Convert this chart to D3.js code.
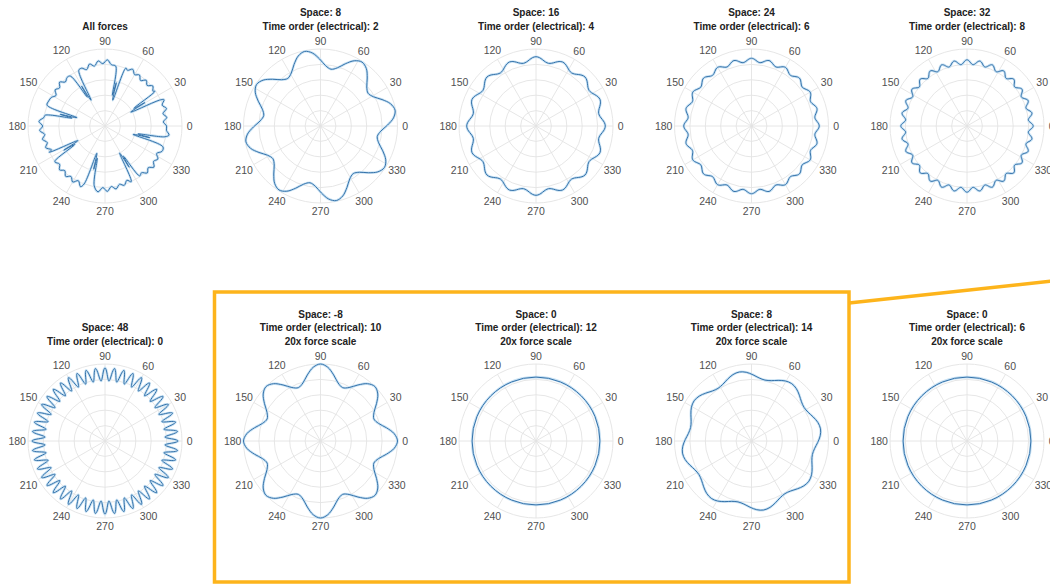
<!DOCTYPE html>
<html><head><meta charset="utf-8">
<script src="https://cdn.jsdelivr.net/npm/d3@7"></script>
<style>
html,body{margin:0;padding:0;background:#fff;}
svg{display:block;}
text{font-family:"Liberation Sans",Arial,Helvetica,sans-serif;}
</style></head><body>
<svg id="chart" width="1050" height="585"></svg>
<script>
// ---------------- data ----------------
// panel 0 = "All forces"; panels 1..9 = single force harmonics
const spaceOrders  = [null, 8, 16, 24, 32, 48, -8, 0, 8, 0];
const timeOrders   = [null, 2, 4, 6, 8, 0, 10, 12, 14, 6];
const forceScales  = [null, null, null, null, null, null, 20, 20, 20, 20];
// lobe radii (fraction of outer ring) at peak and trough; angle of one peak (deg)
const peakRadius   = [null, 0.99, 0.90, 0.88, 0.86, 0.95, 1.00, 0.83, 0.91, 0.83];
const troughRadius = [null, 0.75, 0.83, 0.83, 0.80, 0.78, 0.75, 0.83, 0.81, 0.83];
const peakAngleDeg = [null, 12, 0, 0, 0, 0, 0, 0, 10, 0];
// shape of one lobe, peak -> trough -> peak, in 8 steps (0 = trough, 1 = peak)
const lobeShape    = [1, 0.85, 0.5, 0.15, 0, 0.15, 0.5, 0.85];

// "All forces" outline: ring radius every 4 degrees (0..356)
const allForcesRing = [
 .80,.76,.81,.77,.83,.79,.84,.79,.82,.77,.81,.76,.80,.75,.80,.77,.82,.78,
 .84,.79,.85,.80,.86,.81,.85,.79,.83,.77,.81,.76,.80,.75,.80,.77,.82,.77,
 .80,.75,.79,.80,.84,.79,.85,.80,.86,.81,.85,.79,.83,.78,.82,.76,.80,.75,
 .80,.77,.82,.78,.83,.79,.84,.79,.85,.80,.85,.81,.86,.80,.85,.79,.83,.78,
 .81,.76,.80,.75,.80,.77,.82,.78,.83,.78,.81,.76,.81,.78,.83,.79,.84,.80];
// inward spikes of "All forces"
const spikeAngles    = [30, 75, 120, 165, 210, 255, 300, 345];
const spikeTipRadius = [0.38, 0.35, 0.38, 0.38, 0.40, 0.37, 0.40, 0.38];
const spikeMidRadius = [0.60, 0.58, 0.60, 0.60, 0.62, 0.58, 0.62, 0.60];

const thetaTicks  = [0, 30, 60, 90, 120, 150, 180, 210, 240, 270, 300, 330];
const radialTicks = [0.2, 0.4, 0.6, 0.8, 1.0];

// ---------------- layout ----------------
const colX = [105, 320.5, 536, 751.5, 967];
const rowY = [126, 441];
const R = 77;
const rScale = d3.scaleLinear().domain([0, 1]).range([0, R]);
const toRad = d => d * Math.PI / 180;
const lineColor = "#3472aa";
const haloColor = "#c9e2f4";

const svg = d3.select("#chart");
svg.append("rect").attr("width", 1050).attr("height", 585).attr("fill", "#fff");

function titleLines(i) {
  if (i === 0) return ["All forces"];
  const t = ["Space: " + spaceOrders[i], "Time order (electrical): " + timeOrders[i]];
  if (forceScales[i]) t.push(forceScales[i] + "x force scale");
  return t;
}

const radial = d3.lineRadial()
  .angle(d => toRad(90 - d[0]))
  .radius(d => rScale(d[1]));

function panelPoints(i) {
  const n = Math.abs(spaceOrders[i]);
  const m = lobeShape.length;
  const pts = [];
  for (let k = 0; k < m * n; k++) {
    const f = lobeShape[k % m];
    pts.push([peakAngleDeg[i] + k * 360 / (m * n), troughRadius[i] + f * (peakRadius[i] - troughRadius[i])]);
  }
  return pts;
}

function allForcesPoints() {
  const pts = [];
  const circDist = (a, b) => { const d = Math.abs(((a - b) % 360 + 360) % 360); return Math.min(d, 360 - d); };
  allForcesRing.forEach((r, k) => {
    const a = k * 4;
    if (spikeAngles.every(s => circDist(a, s) > 5)) pts.push([a, r]);
  });
  spikeAngles.forEach((s, j) => {
    const tip = spikeTipRadius[j];
    [[-4.8, 0.80], [-1.6, tip], [0.4, spikeMidRadius[j]], [1.5, tip + 0.06], [4.8, 0.79]]
      .forEach(p => pts.push([s + p[0], p[1]]));
  });
  pts.forEach(p => { p[0] = ((p[0] % 360) + 360) % 360; });
  pts.sort((a, b) => a[0] - b[0]);
  return pts;
}

for (let i = 0; i < 10; i++) {
  const cx = colX[i % 5], cy = rowY[Math.floor(i / 5)];
  const g = svg.append("g").attr("transform", `translate(${cx},${cy})`);

  // grid
  g.selectAll("circle.grid").data(radialTicks).join("circle")
    .attr("class", "grid").attr("r", d => rScale(d))
    .attr("fill", "none").attr("stroke", "#e3e3e3").attr("stroke-width", 0.9);
  g.selectAll("line.spoke").data(thetaTicks).join("line")
    .attr("class", "spoke")
    .attr("x1", 0).attr("y1", 0)
    .attr("x2", d => rScale(1) * Math.cos(toRad(d)))
    .attr("y2", d => -rScale(1) * Math.sin(toRad(d)))
    .attr("stroke", "#e3e3e3").attr("stroke-width", 0.9);

  // theta labels
  const fs = 10.5;
  g.selectAll("text.tl").data(thetaTicks).join("text")
    .attr("class", "tl")
    .attr("font-size", fs).attr("fill", "#505050").attr("text-anchor", "middle")
    .each(function(d) {
      const w = String(d).length * 0.556 * fs, h = 0.72 * fs;
      const c = Math.cos(toRad(d)), s = Math.sin(toRad(d));
      const half = Math.abs(c) * w / 2 + Math.abs(s) * h / 2;
      const rr = R + 6 + half * 0.55;
      d3.select(this).attr("x", rr * c).attr("y", -rr * s + 0.36 * fs);
    })
    .text(d => d);

  // data curve
  let path = null;
  if (i === 0) {
    path = radial.curve(d3.curveCatmullRomClosed.alpha(0.5))(allForcesPoints());
  } else if (spaceOrders[i] !== 0) {
    path = radial.curve(d3.curveCatmullRomClosed.alpha(0.5))(panelPoints(i));
  }
  if (path) {
    g.append("path").attr("d", path).attr("fill", "none")
      .attr("stroke", haloColor).attr("stroke-width", 2.6).attr("stroke-linejoin", "round");
    g.append("path").attr("d", path).attr("fill", "none")
      .attr("stroke", lineColor).attr("stroke-width", 1).attr("stroke-linejoin", "round");
  } else {
    g.append("circle").attr("r", rScale(peakRadius[i])).attr("fill", "none")
      .attr("stroke", haloColor).attr("stroke-width", 2.6);
    g.append("circle").attr("r", rScale(peakRadius[i])).attr("fill", "none")
      .attr("stroke", lineColor).attr("stroke-width", 1);
  }

  // title
  const lines = titleLines(i);
  lines.forEach((t, k) => {
    g.append("text")
      .attr("x", 0).attr("y", -100 - (lines.length - 1 - k) * 13.5 + 3.6)
      .attr("text-anchor", "middle").attr("font-size", 10).attr("font-weight", "bold")
      .attr("fill", "#222").text(t);
  });
}

// orange highlight
const orange = "#fdb41b";
svg.append("rect").attr("x", 214.5).attr("y", 292).attr("width", 634.5).attr("height", 290)
  .attr("fill", "none").attr("stroke", orange).attr("stroke-width", 3.5);
svg.append("line").attr("x1", 849).attr("y1", 303).attr("x2", 1052).attr("y2", 281)
  .attr("stroke", orange).attr("stroke-width", 3.5);
</script>
</body></html>
